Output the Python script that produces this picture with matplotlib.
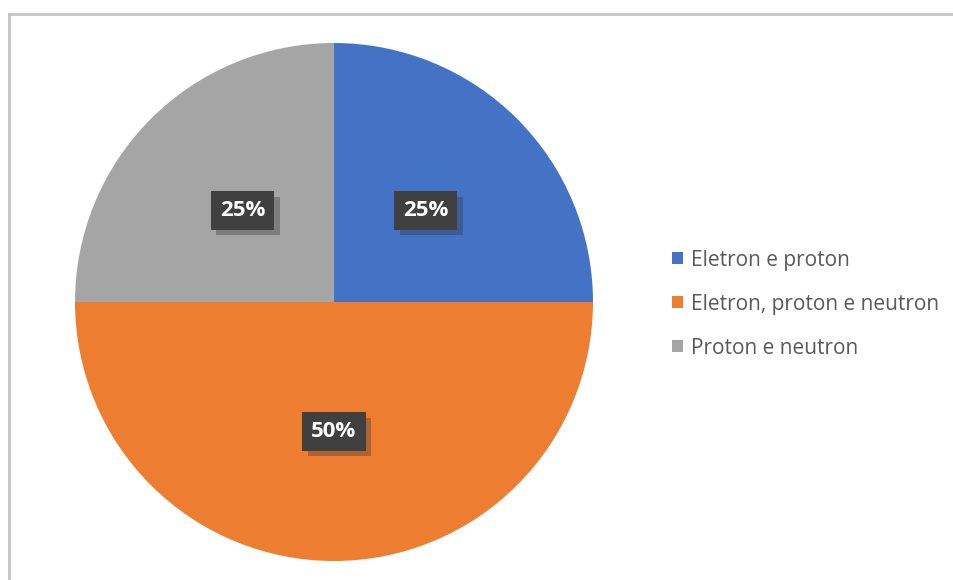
import matplotlib.pyplot as plt
import matplotlib.patheffects as pe
from matplotlib.lines import Line2D

labels = ["Eletron e proton", "Eletron, proton e neutron", "Proton e neutron"]
shares = [25, 50, 25]
colors = ["#4472C4", "#ED7D31", "#A5A5A5"]

W, H = 954, 580
fig = plt.figure(figsize=(W / 100, H / 100), dpi=100)
plt.rcParams["font.family"] = ["Open Sans", "DejaVu Sans"]

# chart area border (top + left edge visible in the crop)
fig.add_artist(Line2D([9 / W, 9 / W], [0, 1 - 14 / H], color="#c4c4c4", lw=2))
fig.add_artist(Line2D([9 / W, 1], [1 - 14 / H, 1 - 14 / H], color="#c4c4c4", lw=2))

cx, cy, r = 334, 302, 259
ax = fig.add_axes([(cx - r) / W, (H - cy - r) / H, 2 * r / W, 2 * r / H])
wedges, texts, autotexts = ax.pie(
    shares, colors=colors, startangle=90, counterclock=False, radius=1,
    autopct="%d%%", pctdistance=0.5,
    textprops=dict(color="white", fontsize=16, fontweight="bold"),
)
ax.set_xlim(-1, 1)
ax.set_ylim(-1, 1)
ax.set_aspect("equal")

for t in autotexts:
    t.set_bbox(dict(boxstyle="square,pad=0.4", fc="#404040", ec="none"))
    t.get_bbox_patch().set_path_effects(
        [pe.SimplePatchShadow(offset=(4, -4), shadow_rgbFace="#333333", alpha=0.35), pe.Normal()])

leg = fig.legend(
    wedges, labels, loc="upper left", bbox_to_anchor=(653 / W, 1 - 231 / H),
    frameon=False, fontsize=15, labelcolor="#595959",
    handlelength=0.52, handleheight=0.52, handletextpad=0.42, labelspacing=1.1,
)

fig.savefig("out.png", dpi=100)
